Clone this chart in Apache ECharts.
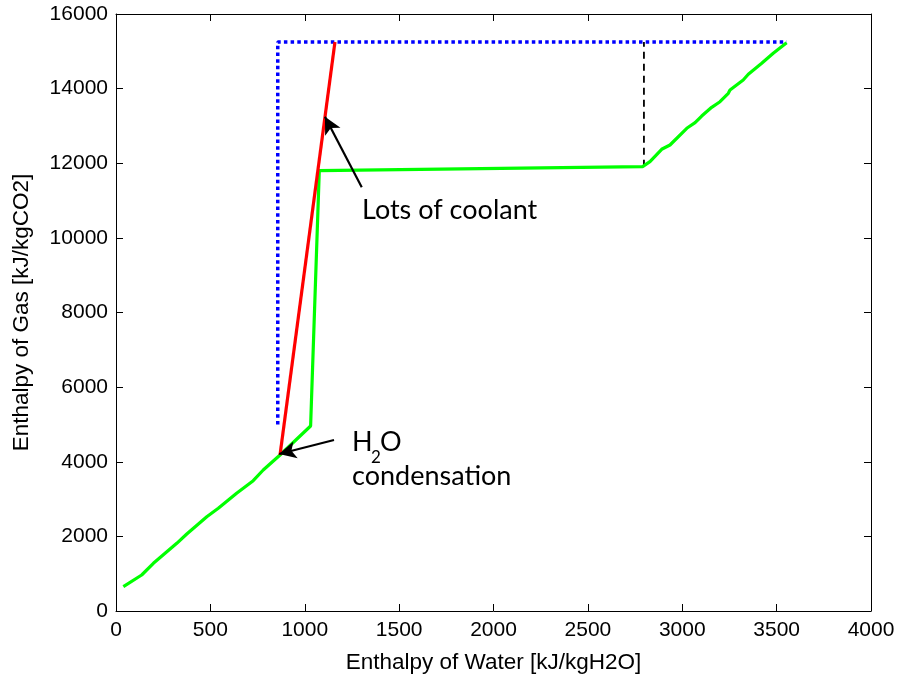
<!DOCTYPE html>
<html>
<head>
<meta charset="utf-8">
<script src="https://cdn.jsdelivr.net/npm/echarts@6/dist/echarts.min.js"></script>
<style>html,body{margin:0;padding:0;background:#fff;}#main{width:901px;height:681px;}</style>
</head>
<body>
<div id="main"></div>
<script>
// ---- data ----
const greenX = [39,136,198,322,375,481,542,639,727,780,869,1031,1077,2790,2829,2891,2935,3024,3068,3103,3156,3200,3244,3253,3323,3350,3421,3482,3553];
const greenY = [651,965,1278,1814,2064,2527,2753,3155,3492,3779,4181,4958,11801,11908,12042,12374,12489,12937,13087,13266,13499,13649,13874,13963,14231,14384,14679,14947,15231];
const redX = [869,1160];
const redY = [4181,15250];
const blueX = [857,857,3553];
const blueY = [5000,15250,15250];
const blackX = [2797,2797];
const blackY = [11908,15250];
const arrowCoolant = [[1302,11358],[1107,13248]];
const arrowH2O = [[1155,4584],[864,4208]];
const xTicks = {min:0, max:4000, interval:500};
const yTicks = {min:0, max:16000, interval:2000};
const xName = 'Enthalpy of Water [kJ/kgH2O]';
const yName = 'Enthalpy of Gas [kJ/kgCO2]';
const noteCoolant = 'Lots of coolant';
const noteH2O = ['H','2','O'];
const noteCond = 'condensation';

const pair = (xs, ys) => xs.map((x,i)=>[x, ys[i]]);

const chart = echarts.init(document.getElementById('main'), null, {renderer:'canvas'});
const SANS = 'Liberation Sans, Arial, sans-serif';
const annFont = 'Lato, "Open Sans", sans-serif';
function axLine(){ return {show:true, onZero:false, lineStyle:{color:'#000', width:1}}; }
function axTick(){ return {show:true, inside:true, length:7, lineStyle:{color:'#000', width:1}}; }
function axLabel(m){ return {show:true, margin:m, fontFamily:SANS, fontSize:21, color:'#000', formatter:v=>String(v)}; }

chart.setOption({
  animation:false,
  backgroundColor:'#fff',
  grid:{left:116, right:30, top:14, bottom:70, containLabel:false},
  xAxis:[
    {type:'value', position:'bottom', min:xTicks.min, max:xTicks.max, interval:xTicks.interval,
     axisLine:axLine(), axisTick:axTick(), splitLine:{show:false},
     axisLabel:axLabel(9),
     name:xName, nameLocation:'middle', nameGap:40,
     nameTextStyle:{fontFamily:SANS, fontSize:22.5, color:'#000'}},
    {type:'value', position:'top', min:xTicks.min, max:xTicks.max, interval:xTicks.interval,
     axisLine:axLine(), axisTick:axTick(), splitLine:{show:false}, axisLabel:{show:false}}
  ],
  yAxis:[
    {type:'value', position:'left', min:yTicks.min, max:yTicks.max, interval:yTicks.interval,
     axisLine:axLine(), axisTick:axTick(), splitLine:{show:false},
     axisLabel:axLabel(8),
     name:yName, nameLocation:'middle', nameGap:83,
     nameTextStyle:{fontFamily:SANS, fontSize:22.5, color:'#000'}},
    {type:'value', position:'right', min:yTicks.min, max:yTicks.max, interval:yTicks.interval,
     axisLine:axLine(), axisTick:axTick(), splitLine:{show:false}, axisLabel:{show:false}}
  ],
  series:[
    {type:'line', data:pair(blueX, blueY), showSymbol:false, symbol:'none',
     lineStyle:{color:'#0000ff', width:3.5, type:[3.5,3.2], cap:'butt'}, z:2},
    {type:'line', data:pair(blackX, blackY), showSymbol:false, symbol:'none',
     lineStyle:{color:'#000', width:1.8, type:[7,5]}, z:2},
    {type:'line', data:pair(greenX, greenY), showSymbol:false, symbol:'none',
     lineStyle:{color:'#00ff00', width:3.2}, z:3},
    {type:'line', data:pair(redX, redY), showSymbol:false, symbol:'none',
     lineStyle:{color:'#ff0000', width:3.2}, z:4,
     markLine:{silent:true, symbol:['none','arrow'], symbolSize:[13,17], label:{show:false},
       lineStyle:{color:'#000', width:2.2, type:'solid'},
       data:[
         [{coord:arrowCoolant[0]},{coord:arrowCoolant[1]}],
         [{coord:arrowH2O[0]},{coord:arrowH2O[1]}]
       ]}}
  ],
  graphic:[
    {type:'text', left:362, top:197, style:{text:noteCoolant, font:'27px '+annFont, fill:'#000'}},
    {type:'text', left:352, top:429, style:{text:noteH2O[0], font:'27px '+annFont, fill:'#000'}},
    {type:'text', left:371, top:449, style:{text:noteH2O[1], font:'17px '+annFont, fill:'#000'}},
    {type:'text', left:380, top:429, style:{text:noteH2O[2], font:'27px '+annFont, fill:'#000'}},
    {type:'text', left:352, top:463, style:{text:noteCond, font:'27px '+annFont, fill:'#000'}}
  ]
});
</script>
</body>
</html>
